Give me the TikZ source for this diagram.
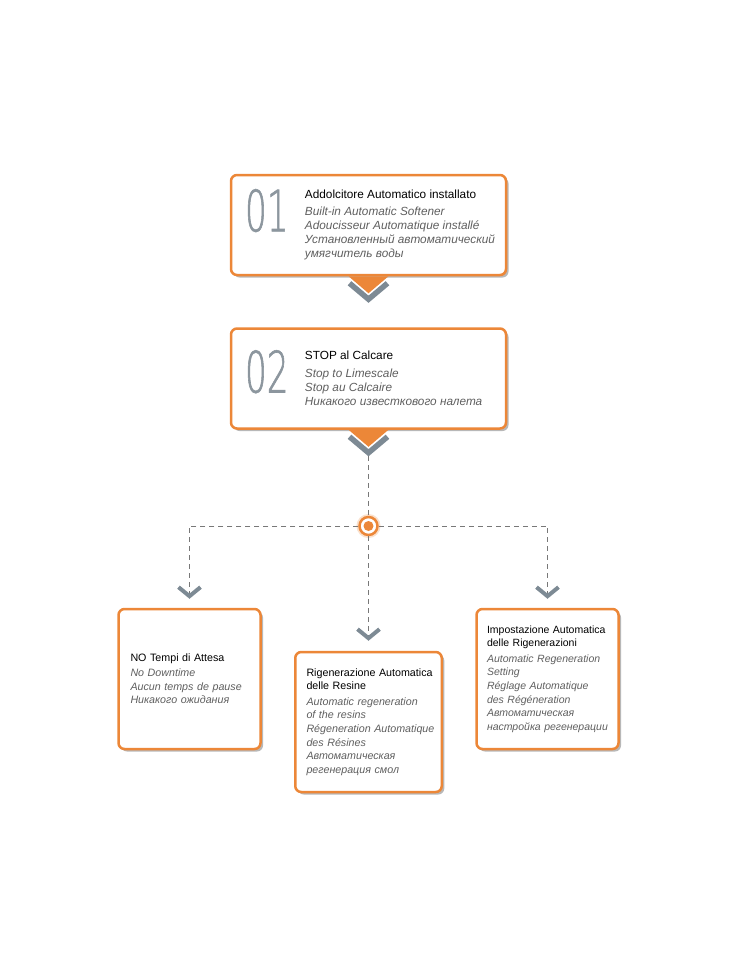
\documentclass[tikz,border=0pt]{standalone}
\usepackage{fontspec}
\setmainfont{Liberation Sans}
\newfontfamily\numfont[FakeStretch=0.6, FakeBold=1]{DejaVu Sans ExtraLight}
\usetikzlibrary{positioning,shadows,arrows.meta}

\definecolor{boxorange}{RGB}{236,135,56}
\definecolor{chevgrey}{RGB}{125,138,148}
\definecolor{numgrey}{RGB}{140,150,158}
\definecolor{subgrey}{RGB}{95,95,95}
\definecolor{dashgrey}{RGB}{120,120,120}

\newcommand{\trline}[1]{{\itshape\color{subgrey}#1}}
% orange notch with grey chevron under a box
\newcommand{\flowmark}[1]{%
  \draw[chevgrey, line width=5.5pt] ([xshift=-19pt,yshift=-7pt]#1.south) -- ([yshift=-23pt]#1.south) -- ([xshift=19pt,yshift=-7pt]#1.south);
  \fill[boxorange] ([xshift=-20pt]#1.south) -- ([xshift=20pt]#1.south) -- ([yshift=-17pt]#1.south) -- cycle;
}

\tikzset{
  bigbox/.style={draw=boxorange, line width=2.5pt, rounded corners=6pt, fill=white,
    minimum width=275pt, minimum height=100pt,
    drop shadow={shadow xshift=2.5pt, shadow yshift=-2.5pt, fill=black, opacity=0.28}},
  smallbox/.style={bigbox, minimum width=142pt, minimum height=140pt, text width=118pt,
    align=left, inner xsep=12pt, font=\fontsize{10.7}{13.6}\selectfont},
  descr/.style={inner sep=0pt, align=left, font=\fontsize{11.8}{14}\selectfont},
  numlabel/.style={inner sep=0pt, font=\numfont\fontsize{57}{57}\selectfont, text=numgrey, anchor=north east},
  hub/.style={circle, draw=boxorange, line width=2.5pt, fill=white, minimum size=18pt, inner sep=0pt,
    preaction={draw=boxorange!25, line width=6pt}},
  dashline/.style={draw=dashgrey, line width=0.8pt, dash pattern=on 5pt off 4pt},
  drop/.style={dashline, shorten >=9pt,
    -{Straight Barb[length=9pt, width=22pt, line width=4pt, color=chevgrey]}},
}

\begin{document}
\begin{tikzpicture}[x=1pt, y=-1pt]
    \useasboundingbox (0,0) rectangle (750,962);

    % top chain
    \node[bigbox] (s1) at (368.5,225) {};
    \node[descr, right=75pt of s1.west] (t1) {Addolcitore Automatico installato\\[3pt]
        \trline{Built-in Automatic Softener}\\
        \trline{Adoucisseur Automatique installé}\\
        \trline{Установленный автоматический}\\
        \trline{умягчитель воды}};
    \node[numlabel] (n1) at ([xshift=-16pt,yshift=1pt]t1.north west) {01};

    \node[bigbox, below=51pt of s1] (s2) {};
    \node[descr, right=75pt of s2.west] (t2) {STOP al Calcare\\[4pt]
        \trline{Stop to Limescale}\\
        \trline{Stop au Calcaire}\\
        \trline{Никакого известкового налета}};
    \node[numlabel] (n2) at ([xshift=-16pt,yshift=1pt]t2.north west) {02};

    \flowmark{s1}
    \flowmark{s2}

    % split
    \node[hub, below=86pt of s2] (hub) {};
    \fill[boxorange] (hub) circle (5pt);

    \node[smallbox] (bL) at (189.5,679) {NO Tempi di Attesa\\[1pt]
        \trline{No Downtime}\\
        \trline{Aucun temps de pause}\\
        \trline{Никакого ожидания}};
    \node[smallbox, text width=124pt, inner xsep=11.25pt] (bM) at (368.5,722) {\mbox{Rigenerazione Automatica}\\
        delle Resine\\[2pt]
        \trline{Automatic regeneration}\\
        \trline{of the resins}\\
        \mbox{\trline{Régeneration Automatique}}\\
        \trline{des Résines}\\
        \trline{Автоматическая}\\
        \trline{регенерация смол}};
    \node[smallbox, text width=121pt, inner xsep=10.25pt, font=\fontsize{10.5}{13.6}\selectfont] (bR) at (547.5,679) {\mbox{Impostazione Automatica}\\
        delle Rigenerazioni\\[2pt]
        \trline{Automatic Regeneration}\\
        \trline{Setting}\\
        \trline{Réglage Automatique}\\
        \trline{des Régéneration}\\
        \trline{Автоматическая}\\
        \mbox{\trline{настройка регенерации}}};

    \draw[dashline, shorten <=26pt] (s2) -- (hub);
    \draw[drop] (hub) -| (bL);
    \draw[drop, shorten >=10pt] (hub) -- (bM);
    \draw[drop] (hub) -| (bR);
\end{tikzpicture}
\end{document}
